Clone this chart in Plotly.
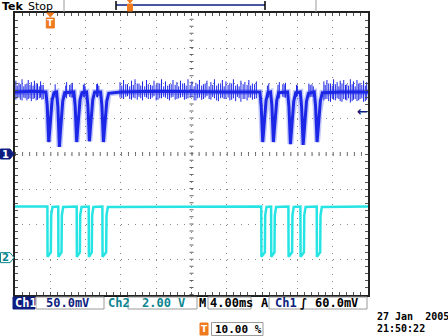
import plotly.graph_objects as go

# Channel 1 core trace: time in ms, level in mV
ch1_t = [-4.0, -2.0, -0.55,
         -0.50, -0.35, -0.26, -0.18, -0.08, 0.05, 0.20, 0.42,
         0.71, 0.86, 0.95, 1.03, 1.13, 1.26, 1.41, 1.63,
         2.67, 2.82, 2.91, 2.99, 3.09, 3.22, 3.37, 3.59,
         4.11, 4.26, 4.35, 4.43, 4.53, 4.66, 4.81, 5.03,
         5.70, 5.85, 5.94, 6.02, 6.12, 6.25, 6.40, 6.62,
         8.0, 12.0, 16.0, 20.0, 23.6,
         23.75, 23.90, 23.99, 24.07, 24.17, 24.30, 24.45, 24.67,
         24.96, 25.11, 25.20, 25.28, 25.38, 25.51, 25.66, 25.88,
         26.89, 27.04, 27.13, 27.21, 27.31, 27.44, 27.59, 27.81,
         28.33, 28.48, 28.57, 28.65, 28.75, 28.88, 29.03, 29.25,
         29.91, 30.06, 30.15, 30.23, 30.33, 30.46, 30.61, 30.83,
         33.0, 36.0]
ch1_mv = [88, 89, 88,
          88, 69, 37, 17, 31, 58, 76, 87,
          88, 67, 34, 10, 29, 56, 75, 87,
          88, 68, 38, 17, 33, 58, 77, 87,
          88, 69, 39, 18, 34, 59, 77, 88,
          88, 68, 37, 17, 32, 57, 75, 86,
          88, 89, 88, 88, 88,
          88, 68, 37, 17, 32, 57, 76, 87,
          88, 69, 38, 17, 33, 58, 76, 87,
          88, 67, 35, 14, 30, 56, 75, 87,
          88, 66, 34, 13, 29, 55, 75, 86,
          88, 68, 37, 17, 32, 57, 76, 87,
          88, 88]

# Channel 1 noise spikes: time (ms), top and bottom of each spike (mV)
spike_t = [-3.9, -3.55, -3.2, -2.85, -2.5, -2.15, -1.8, -1.45, -1.1, -0.8,
           -3.75, -3.4, -3.0, -2.65, -2.3, -1.95, -1.6, -1.25, -0.95,
           0.55, 1.85, 2.2, 2.5, 3.85, 5.25, 5.5,
           1.75, 2.35, 3.75, 3.95, 5.35,
           7.9, 8.3, 8.75, 9.2, 9.6, 10.05, 10.45, 10.9, 11.35, 11.75, 12.2, 12.6,
           13.05, 13.5, 13.9, 14.35, 14.75, 15.2, 15.6, 16.05, 16.5, 16.9, 17.35,
           17.75, 18.2, 18.6, 19.05, 19.5, 19.9, 20.35, 20.75, 21.2, 21.6, 22.05,
           22.5, 22.9, 23.35,
           8.1, 8.55, 9.0, 9.4, 9.85, 10.25, 10.7, 11.1, 11.55, 12.0, 12.4, 12.85,
           13.3, 13.7, 14.15, 14.55, 15.0, 15.4, 15.85, 16.3, 16.7, 17.15, 17.55,
           18.0, 18.4, 18.85, 19.3, 19.7, 20.15, 20.55, 21.0, 21.4, 21.85, 22.3,
           22.7, 23.15,
           24.75, 25.95, 26.35, 26.65, 27.9, 29.3, 29.65,
           24.6, 25.8, 26.5, 28.0, 29.45, 29.8,
           31.0, 31.35, 31.75, 32.1, 32.5, 32.85, 33.25, 33.6, 34.0, 34.35, 34.75,
           35.1, 35.5, 35.85,
           31.15, 31.55, 31.95, 32.3, 32.7, 33.05, 33.45, 33.8, 34.2, 34.55, 34.95,
           35.3, 35.7]
spike_hi_mv = [104, 101, 106, 99, 105, 102, 104, 100, 103, 98,
               97, 99, 96, 100, 98, 97, 99, 96, 98,
               99, 102, 98, 101, 100, 99, 97,
               97, 99, 98, 96, 100,
               102, 105, 99, 104, 106, 100, 103, 105, 98, 104, 101, 106,
               103, 99, 105, 102, 104, 100, 106, 103, 101, 105, 99,
               104, 102, 106, 100, 105, 103, 101, 106, 99, 104, 102,
               105, 100, 103,
               97, 99, 96, 98, 100, 97, 96, 99, 97, 98, 100, 96,
               97, 99, 98, 96, 100, 97, 98, 96, 99, 97, 100,
               96, 98, 97, 99, 96, 98, 100, 97, 96, 99, 98,
               97, 99,
               100, 102, 99, 101, 98, 100, 99,
               97, 98, 99, 97, 98, 96,
               103, 105, 100, 106, 102, 104, 105, 99, 106, 103, 105,
               101, 104, 102,
               98, 100, 97, 99, 96, 100, 98, 97, 99, 96, 100,
               98, 97]
spike_lo_mv = [77, 80, 76, 79, 78, 75, 79, 77, 80, 78,
               79, 77, 80, 76, 79, 78, 76, 79, 77,
               80, 79, 81, 80, 80, 81, 82,
               81, 80, 81, 82, 80,
               80, 78, 82, 77, 79, 81, 76, 80, 78, 82, 77, 79,
               80, 76, 81, 78, 80, 77, 79, 81, 76, 80, 78,
               82, 77, 79, 75, 80, 78, 76, 79, 81, 74, 78,
               80, 77, 79,
               79, 81, 78, 80, 77, 79, 81, 78, 80, 76, 79, 81,
               78, 80, 77, 79, 81, 78, 80, 76, 79, 77, 80,
               78, 81, 76, 79, 78, 80, 77, 75, 79, 78, 76,
               80, 78,
               80, 79, 81, 80, 81, 80, 81,
               81, 80, 80, 82, 81, 81,
               76, 78, 74, 77, 79, 75, 78, 76, 73, 77, 75,
               78, 74, 77,
               78, 75, 79, 76, 78, 74, 77, 79, 75, 78, 76,
               79, 75]

# Channel 2 trace: time in ms, level in V
ch2_t = [-4.0,
         -0.33, -0.31, 0.06, 0.10, 0.25,
         0.90, 0.92, 1.27, 1.31, 1.46,
         2.99, 3.01, 3.35, 3.39, 3.54,
         4.35, 4.37, 4.70, 4.74, 4.89,
         5.90, 5.92, 6.33, 6.37, 6.52,
         23.90, 23.92, 24.31, 24.35, 24.50,
         25.02, 25.04, 25.40, 25.44, 25.59,
         26.98, 27.00, 27.40, 27.44, 27.59,
         28.34, 28.36, 28.74, 28.78, 28.93,
         30.19, 30.21, 30.58, 30.62, 30.77,
         36.0]
ch2_v = [2.9,
         2.9, 0.05, 0.3, 2.4, 2.88,
         2.9, 0.05, 0.3, 2.4, 2.88,
         2.9, 0.05, 0.3, 2.4, 2.88,
         2.9, 0.05, 0.3, 2.4, 2.88,
         2.9, 0.05, 0.3, 2.4, 2.88,
         2.9, 0.05, 0.3, 2.4, 2.88,
         2.9, 0.05, 0.3, 2.4, 2.88,
         2.9, 0.05, 0.3, 2.4, 2.88,
         2.9, 0.05, 0.3, 2.4, 2.88,
         2.9, 0.05, 0.3, 2.4, 2.88,
         2.9]

# scope settings
ch1_scale_mv = 50.0
ch2_scale_v = 2.0
ch2_pos_div = -2.94
time_scale_ms = 4.0
trig_pos_pct = 10.0
trig_level_mv = 60.0
n_hdiv, n_vdiv = 10, 8

ch1_label = "50.0mV"
ch2_label = "2.00 V"
time_label = "4.00ms"
trig_label = "60.0mV"
pos_label = "10.00 %"
date_label = "27 Jan  2005"
time_of_day = "21:50:22"

# ---------------- styling ----------------
W, H = 448, 336
L, R, T, B = 15, 368, 13, 295
BLUE = "#1c26e6"
BLUE_FUZZ = "rgba(40,60,235,0.28)"
CYAN = "#26e4e4"
NAVY = "#0d1e80"
TEAL = "#0a8590"
ORANGE = "#f07a1e"
GRID = "#8a8a8a"
MONO = "DejaVu Sans Mono"
SANS = "DejaVu Sans"

t_start = -trig_pos_pct / 100 * n_hdiv * time_scale_ms
t_end = t_start + n_hdiv * time_scale_ms
y1_range = [-n_vdiv / 2 * ch1_scale_mv, n_vdiv / 2 * ch1_scale_mv]
y2_range = [(-n_vdiv / 2 - ch2_pos_div) * ch2_scale_v, (n_vdiv / 2 - ch2_pos_div) * ch2_scale_v]
dot_dash = "1px,%.2fpx" % ((R - L) / n_hdiv / 5 - 1)


def px2x(x):
    return (x - L) / (R - L)


def py2y(y):
    return (B - y) / (B - T)


def t2px(t):
    return L + (t - t_start) / (t_end - t_start) * (R - L)


def mv2py(v):
    return B - (v - y1_range[0]) / (y1_range[1] - y1_range[0]) * (B - T)


def v2py(v):
    return B - (v - y2_range[0]) / (y2_range[1] - y2_range[0]) * (B - T)


shapes = []
annotations = []


def rect(x0, y0, x1, y1, line="#9a9a9a", fill=None, lw=1):
    shapes.append(dict(type="rect", xref="paper", yref="paper",
                       x0=px2x(x0), x1=px2x(x1), y0=py2y(y1), y1=py2y(y0),
                       line=dict(color=line, width=lw), fillcolor=fill, layer="above"))


def seg(x0, y0, x1, y1, color, width=1, dash=None):
    shapes.append(dict(type="line", xref="paper", yref="paper",
                       x0=px2x(x0), x1=px2x(x1), y0=py2y(y0), y1=py2y(y1),
                       line=dict(color=color, width=width, dash=dash), layer="above"))


def poly(points, fill, line=None):
    d = "M " + " L ".join("%.5f,%.5f" % (px2x(x), py2y(y)) for x, y in points) + " Z"
    shapes.append(dict(type="path", xref="paper", yref="paper", path=d,
                       fillcolor=fill, line=dict(color=line or fill, width=1), layer="above"))


def txt(x, y, s, color="black", size=12, family=MONO, bold=False, anchor="left", bg=None):
    annotations.append(dict(xref="paper", yref="paper", x=px2x(x), y=py2y(y),
                            text=("<b>%s</b>" % s) if bold else s, showarrow=False,
                            xanchor=anchor, yanchor="middle", borderpad=0, bgcolor=bg,
                            font=dict(color=color, size=size, family=family)))


# ---------------- traces ----------------
sx, sy = [], []
for t, hi, lo in zip(spike_t, spike_hi_mv, spike_lo_mv):
    sx += [t, t, None]
    sy += [lo, hi, None]

fig = go.Figure()
fig.add_trace(go.Scatter(x=ch2_t, y=ch2_v, yaxis="y2", mode="lines",
                         line=dict(color=CYAN, width=2.5), hoverinfo="skip"))
fig.add_trace(go.Scatter(x=ch1_t, y=ch1_mv, mode="lines",
                         line=dict(color=BLUE_FUZZ, width=6), hoverinfo="skip"))
fig.add_trace(go.Scatter(x=sx, y=sy, mode="lines",
                         line=dict(color=BLUE, width=1), hoverinfo="skip"))
fig.add_trace(go.Scatter(x=ch1_t, y=ch1_mv, mode="lines",
                         line=dict(color=BLUE, width=3), hoverinfo="skip"))

# ---------------- graticule centre lines ----------------
t_mid = (t_start + t_end) / 2
shapes.append(dict(type="line", xref="x", yref="paper", x0=t_mid, x1=t_mid, y0=0, y1=1,
                   line=dict(color="#666", width=4, dash=dot_dash), layer="below"))
shapes.append(dict(type="line", xref="paper", yref="y", x0=0, x1=1, y0=0, y1=0,
                   line=dict(color="#666", width=4, dash=dot_dash), layer="below"))

# ---------------- top bar ----------------
txt(1, 6.5, "Tek", "black", 11, SANS, bold=True)
txt(27, 6.5, "Stop", "black", 11, SANS)
seg(64, 0, 64, 12, "#9a9a9a")
seg(316, 0, 316, 12, "#9a9a9a")
seg(116, 5, 265, 5, NAVY, 1.5)
seg(116, 1, 116, 10, "black", 1.5)
seg(265, 1, 265, 10, "black", 1.5)
rect(127.5, 4, 132.5, 11, ORANGE, ORANGE)
poly([(127.5, 0), (132.5, 0), (130, 3)], ORANGE)

# trigger position marker
tx = t2px(0)
poly([(tx - 3.5, 13), (tx + 3.5, 13), (tx, 17)], ORANGE)
rect(tx - 4, 18, tx + 4, 28, ORANGE, ORANGE)
txt(tx, 23, "T", "white", 9, SANS, bold=True, anchor="center")

# channel ground markers
g1 = mv2py(0)
poly([(0.5, g1 - 5), (10, g1 - 5), (14, g1), (10, g1 + 5), (0.5, g1 + 5)], NAVY)
txt(5, g1, "1", "white", 10, SANS, bold=True, anchor="center")
g2 = v2py(0)
poly([(0.5, g2 - 5), (10, g2 - 5), (14, g2), (10, g2 + 5), (0.5, g2 + 5)], "white", TEAL)
txt(5, g2, "2", TEAL, 10, SANS, bold=True, anchor="center")

# trigger level arrow
ty = mv2py(trig_level_mv)
txt(362, ty, "←", NAVY, 13, SANS, bold=True, anchor="center")

# ---------------- status bar ----------------
sy0, sy1, sc = 297, 309, 302.5
rect(13, sy0, 35, sy1, NAVY, NAVY)
txt(14, sc, "Ch1", "white", 12, MONO, bold=True)
rect(36, sy0, 104, sy1)
txt(45, sc, ch1_label, NAVY, 12, MONO, bold=True)
txt(106.5, sc, "Ch2", TEAL, 12, MONO, bold=True)
rect(128, sy0, 197, sy1)
txt(141, sc, ch2_label, TEAL, 12, MONO, bold=True)
txt(198, sc, "M", "black", 12, MONO, bold=True)
rect(208, sy0, 251, sy1)
txt(209, sc, time_label, "black", 12, MONO, bold=True)
txt(260, sc, "A", "black", 12, MONO, bold=True)
rect(269, sy0, 367, sy1)
txt(274, sc, "Ch1", NAVY, 12, MONO, bold=True)
txt(299, sc, "∫", "black", 12, SANS, bold=True)
txt(314, sc, trig_label, "black", 12, MONO, bold=True)

rect(200, 323, 208, 335, ORANGE, ORANGE)
txt(204, 329, "T", "white", 9, SANS, bold=True, anchor="center")
rect(211.5, 322.5, 263, 335.5)
txt(214, 329, pos_label, "black", 11, MONO, bold=True)

txt(376, 316, date_label, "black", 10, MONO, bold=True)
txt(376, 328, time_of_day, "black", 10, MONO, bold=True)

# ---------------- layout ----------------
axis_common = dict(showgrid=True, gridcolor=GRID, gridwidth=1, griddash=dot_dash,
                   showline=True, linecolor="#222", linewidth=1.5, mirror="ticks",
                   ticks="inside", ticklen=3, tickcolor="#555", tickwidth=1,
                   showticklabels=False, zeroline=False, fixedrange=True)
fig.update_layout(
    width=W, height=H,
    margin=dict(l=L, r=W - R, t=T, b=H - B, pad=0),
    paper_bgcolor="white", plot_bgcolor="white",
    showlegend=False,
    xaxis=dict(range=[t_start, t_end], dtick=time_scale_ms, tick0=t_start,
               minor=dict(dtick=time_scale_ms / 5, ticks="inside", ticklen=3,
                          tickcolor="#555", showgrid=False),
               **axis_common),
    yaxis=dict(range=y1_range, dtick=ch1_scale_mv, tick0=0,
               minor=dict(dtick=ch1_scale_mv / 5, ticks="inside", ticklen=3,
                          tickcolor="#555", showgrid=False),
               **axis_common),
    yaxis2=dict(range=y2_range, overlaying="y", visible=False, fixedrange=True),
    shapes=shapes,
    annotations=annotations,
)

fig.write_html("out.html", config=dict(displayModeBar=False))
